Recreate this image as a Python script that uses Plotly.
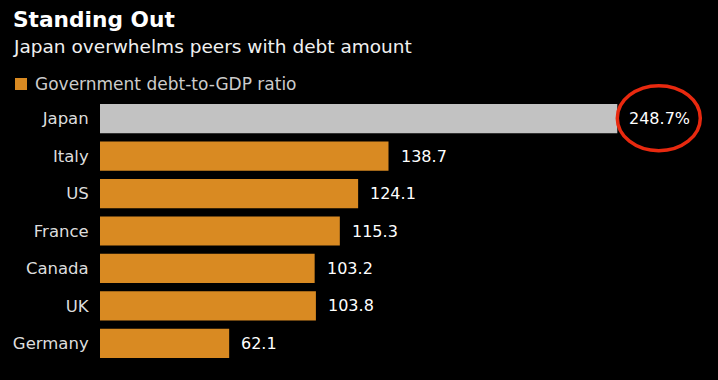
import plotly.graph_objects as go

countries = ["Japan", "Italy", "US", "France", "Canada", "UK", "Germany"]
values = [248.7, 138.7, 124.1, 115.3, 103.2, 103.8, 62.1]
value_labels = ["248.7%", "138.7", "124.1", "115.3", "103.2", "103.8", "62.1"]
highlight = "Japan"
series_name = "Government debt-to-GDP ratio"
title = "Standing Out"
subtitle = "Japan overwhelms peers with debt amount"

W, H = 718, 380
ML, MR, MT, MB = 100, 0, 100, 18
PW, PH = W - ML - MR, H - MT - MB
FONT = "DejaVu Sans"
ORANGE = "#d98a22"
GRAY = "#c2c2c2"


def px_x(p):
    return (p - ML) / PW


def px_y(p):
    return (H - MB - p) / PH


others = [(c, v) for c, v in zip(countries, values) if c != highlight]
hi = [(c, v) for c, v in zip(countries, values) if c == highlight]

fig = go.Figure()
fig.add_trace(go.Bar(
    y=[c for c, _ in others], x=[v for _, v in others], orientation="h",
    marker=dict(color=ORANGE, line=dict(width=0)), width=0.78,
    name=series_name, showlegend=False, hoverinfo="skip"))
fig.add_trace(go.Bar(
    y=[c for c, _ in hi], x=[v for _, v in hi], orientation="h",
    marker=dict(color=GRAY, line=dict(width=0)), width=0.78,
    showlegend=False, hoverinfo="skip"))

for c, v, t in zip(countries, values, value_labels):
    fig.add_annotation(x=v, y=c, xref="x", yref="y", text=t, showarrow=False,
                       xanchor="left", yanchor="middle", xshift=10,
                       font=dict(family=FONT, size=16, color="#ffffff"))

# red ellipse around the highlighted value
hv = values[countries.index(highlight)]
hi_center_px = MT + PH * (0.5 / 7)
fig.add_shape(type="circle", xref="x", yref="paper",
              xsizemode="pixel", xanchor=hv, x0=0, x1=83,
              ysizemode="pixel", yanchor=px_y(hi_center_px), y0=-32, y1=33,
              line=dict(color="#e8290f", width=3.5), fillcolor="rgba(0,0,0,0)")

# title / subtitle
fig.add_annotation(xref="paper", yref="paper", x=px_x(11), y=px_y(20),
                   xanchor="left", yanchor="middle", showarrow=False,
                   text="<b>" + title + "</b>",
                   font=dict(family=FONT, size=21.7, color="#ffffff"))
fig.add_annotation(xref="paper", yref="paper", x=px_x(11), y=px_y(47),
                   xanchor="left", yanchor="middle", showarrow=False,
                   text=subtitle,
                   font=dict(family=FONT, size=18.5, color="#f0f0f0"))
# legend chip
fig.add_shape(type="rect", xref="paper", yref="paper",
              x0=px_x(15), x1=px_x(27), y0=px_y(90), y1=px_y(78),
              fillcolor=ORANGE, line=dict(width=0))
fig.add_annotation(xref="paper", yref="paper", x=px_x(33), y=px_y(84),
                   xanchor="left", yanchor="middle", showarrow=False,
                   text=series_name,
                   font=dict(family=FONT, size=17, color="#cccccc"))

fig.update_layout(
    width=W, height=H, margin=dict(l=ML, r=MR, t=MT, b=MB, pad=0),
    paper_bgcolor="#000000", plot_bgcolor="#000000",
    barmode="overlay", showlegend=False,
    font=dict(family=FONT, color="#dddddd", size=16.5),
    xaxis=dict(range=[0, PW / 2.08], visible=False, fixedrange=True),
    yaxis=dict(categoryorder="array", categoryarray=countries,
               range=[6.5, -0.5], showgrid=False, zeroline=False, showline=False,
               ticks="outside", ticklen=7, tickcolor="rgba(0,0,0,0)",
               fixedrange=True,
               tickfont=dict(family=FONT, size=16.5, color="#dddddd")),
)

fig.write_html("out.html", config={"displayModeBar": False},
               post_script="document.body.style.margin='0';document.body.style.overflow='hidden';")
